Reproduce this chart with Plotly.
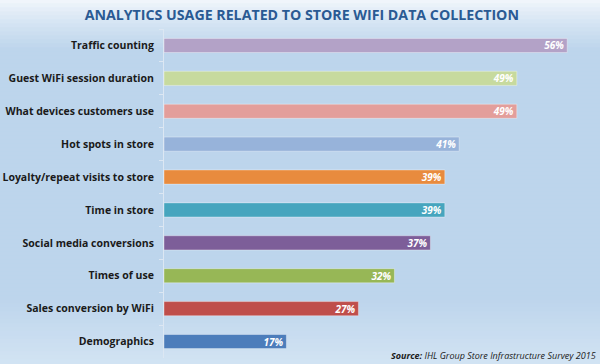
import plotly.graph_objects as go

categories = [
    "Traffic counting",
    "Guest WiFi session duration",
    "What devices customers use",
    "Hot spots in store",
    "Loyalty/repeat visits to store",
    "Time in store",
    "Social media conversions",
    "Times of use",
    "Sales conversion by WiFi",
    "Demographics",
]
values = [56, 49, 49, 41, 39, 39, 37, 32, 27, 17]
value_labels = [f"{v}%" for v in values]
colors = [
    "#B3A2C7", "#C7DA9E", "#E39E9B", "#97B3DA", "#E88B3E",
    "#46A5BE", "#7D5E99", "#97B756", "#BF4E4B", "#4C7DBB",
]

W, H = 600, 364
ML, MR, MT, MB = 164, 2, 29, 6
plot_h = H - MT - MB

fig = go.Figure(go.Bar(
    x=values, y=categories, orientation="h",
    marker=dict(color=colors, line=dict(color="rgba(255,255,255,0.35)", width=1)),
    width=0.43,
    text=value_labels, textposition="inside", insidetextanchor="end",
    constraintext="none",
    textfont=dict(family="Open Sans", size=10, color="white", weight="bold", style="italic"),
    cliponaxis=False,
))

# background gradient (vertical)
def lerp(a, b, t):
    return tuple(round(a[i] + (b[i] - a[i]) * t) for i in range(3))

top_c = (244, 248, 252)
mid_c = (189, 213, 236)
bot_c = (210, 227, 243)
shapes = []
step = 4
for yp in range(0, H, step):
    yc = yp + step / 2
    if yc < 50:
        c = lerp(top_c, mid_c, (yc / 50) ** 0.8)
    elif yc > 300:
        c = lerp(mid_c, bot_c, (yc - 300) / 64)
    else:
        c = mid_c
    y0 = (H - MB - yp) / plot_h
    y1 = (H - MB - (yp + step)) / plot_h
    shapes.append(dict(type="rect", xref="paper", yref="paper", x0=-1, x1=2,
                       y0=y1 - 0.002, y1=y0 + 0.002, fillcolor="rgb(%d,%d,%d)" % c,
                       line=dict(width=0), layer="below"))

fig.update_layout(
    width=W, height=H,
    margin=dict(l=ML, r=MR, t=MT, b=MB, autoexpand=False),
    paper_bgcolor="rgb(189,213,236)",
    plot_bgcolor="rgba(0,0,0,0)",
    shapes=shapes,
    showlegend=False,
    title=dict(
        text="ANALYTICS USAGE RELATED TO STORE WIFI DATA COLLECTION",
        font=dict(family="Open Sans", size=14.2, color="#2A5A93", weight="bold"),
        x=0.503, xanchor="center", xref="container",
        y=1 - 15 / H, yanchor="middle",
    ),
    xaxis=dict(range=[0, (W - ML - MR) / 7.2], visible=False, fixedrange=True),
    yaxis=dict(
        autorange="reversed", categoryorder="array", categoryarray=categories,
        automargin=False,
        showline=True, linecolor="#DCE7F3", linewidth=1,
        ticks="outside", tickson="boundaries", ticklen=4, tickcolor="#DCE7F3",
        ticklabelstandoff=7,
        tickfont=dict(family="Open Sans", size=10.5, color="#1A1A1A", weight="bold"),
        showgrid=False, zeroline=False,
    ),
    annotations=[dict(
        text="<b>Source:</b> IHL Group Store Infrastructure Survey 2015",
        xref="paper", yref="paper", x=1, y=(H - MB - 355) / plot_h,
        xanchor="right", yanchor="middle", showarrow=False,
        font=dict(family="Open Sans", size=9, color="#1A1A1A", style="italic"),
    )],
)

fig.write_html(
    "out.html",
    config={"displayModeBar": False},
    post_script="document.body.style.margin='0';document.body.style.padding='0';",
)
